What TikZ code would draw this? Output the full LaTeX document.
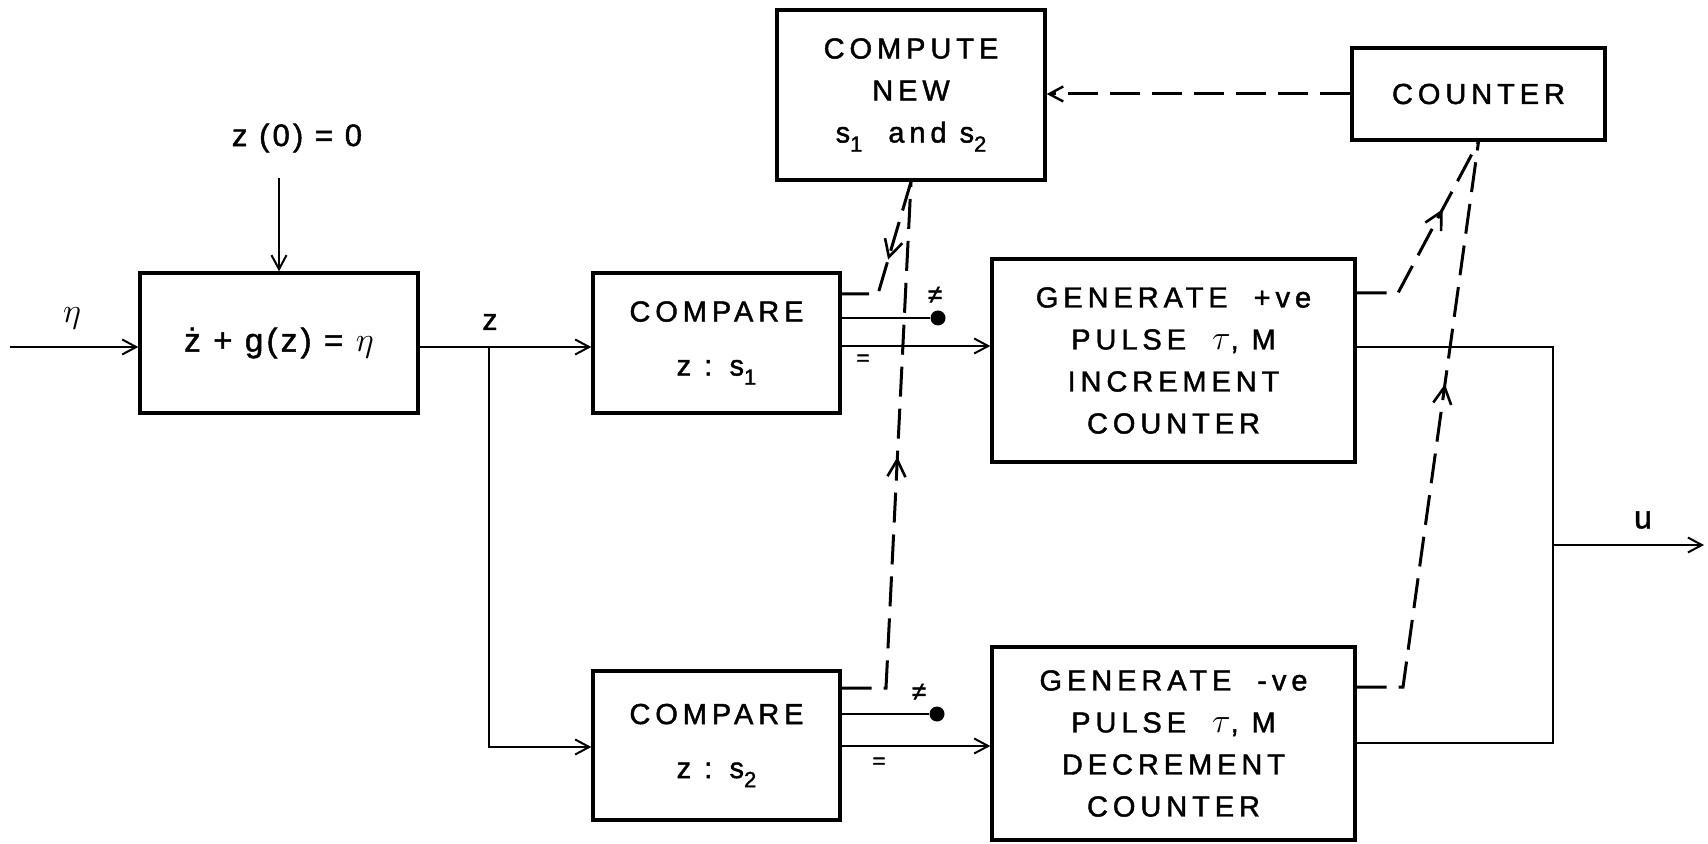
\documentclass[tikz,border=0pt]{standalone}
\usepackage{fontspec}
\setmainfont{Liberation Sans}[LetterSpace=10,FakeBold=1.5]
\newfontfamily\widefont{Liberation Sans}[LetterSpace=17,FakeBold=1.5]
\usetikzlibrary{arrows.meta,decorations.markings}
\newcommand\lo[1]{\raisebox{-0.6ex}{\fontsize{11}{11}\selectfont #1}}
\begin{document}
\begin{tikzpicture}[x=0.5pt,y=-0.5pt,
  box/.style={draw, line width=1.7pt, align=center, inner sep=0pt,
    font=\widefont\fontsize{14.5}{21}\selectfont},
  conn/.style={line width=1pt},
  arr/.style={conn, -{Straight Barb[length=7pt,width=7.5pt,line width=1pt]}},
  dsh/.style={line width=1.5pt, dash pattern=on 15pt off 6pt},
  dsharr/.style={dsh, -{Straight Barb[length=7pt,width=7.5pt,line width=1.2pt]}},
  midarrow/.style={postaction=decorate, decoration={markings,
    mark=at position #1 with {\arrow{Straight Barb[length=8.5pt,width=9pt,line width=1.3pt]}}}},
  lbl/.style={inner sep=0pt},
  dot/.style={circle, fill, inner sep=0pt, minimum size=7.5pt},
]
\fill[white] (0,0) rectangle (1708,844);

% boxes
\node[box, minimum width=139pt, minimum height=70pt, font=\fontsize{16.5}{20}\selectfont] (eq) at (279,343) {ż + g(z) = {\fontsize{19}{19}\selectfont$\eta$}};
\node[box, minimum width=123.5pt, minimum height=70pt] (c1) at (716.5,343) {COMPARE\\[6pt]z : s\lo{1}};
\node[box, minimum width=123.5pt, minimum height=74.5pt] (c2) at (716.5,745.5) {COMPARE\\[6pt]z : s\lo{2}};
\node[box, minimum width=134pt, minimum height=85pt] (cn) at (911,95) {COMPUTE\\NEW\\s\lo{1}\ \ and s\lo{2}};
\node[box, minimum width=126.5pt, minimum height=46pt] (ct) at (1478.5,94) {COUNTER};
\node[box, minimum width=181.5pt, minimum height=101.5pt] (g1) at (1173.5,360.5) {GENERATE \ +ve\\PULSE \ {\fontsize{18}{18}\selectfont$\tau$}, M\\INCREMENT\\COUNTER};
\node[box, minimum width=181.5pt, minimum height=96.5pt] (g2) at (1173.5,743.5) {GENERATE \ -ve\\PULSE \ {\fontsize{18}{18}\selectfont$\tau$}, M\\DECREMENT\\COUNTER};

% labels
\node[lbl, font=\fontsize{15.5}{15.5}\selectfont] (init) at (297,138) {z (0) = 0};
\node[lbl, font=\fontsize{18}{18}\selectfont] (eta) at (72,318) {$\eta$};
\node[lbl, font=\fontsize{15}{15}\selectfont] (zl) at (490,322) {z};
\node[lbl, font=\fontsize{16}{16}\selectfont] (ul) at (1643,520) {u};
\node[lbl, font=\fontsize{13}{13}\selectfont] (ne1) at (935,295) {≠};
\node[lbl, font=\fontsize{11}{11}\selectfont] (eq1) at (863,360) {=};
\node[lbl, font=\fontsize{13}{13}\selectfont] (ne2) at (919,692) {≠};
\node[lbl, font=\fontsize{11}{11}\selectfont] (eq2) at (879,763) {=};

% dots
\node[dot] (d1) at (938,318) {};
\node[dot] (d2) at (937,714) {};

% coordinates
\coordinate (in) at (10,347);
\coordinate (zs) at (279,178);
\coordinate (j1) at (489,347);
\coordinate (j2) at (489,747);
\coordinate (e1) at (0,346);
\coordinate (e2) at (0,746);
\coordinate (k1) at (878,294);
\coordinate (k2) at (886,688);
\coordinate (k3) at (1398,293);
\coordinate (k4) at (1403,687);
\coordinate (r1) at (1553,347);
\coordinate (r2) at (1553,743);
\coordinate (uj) at (1553,545);
\coordinate (uend) at (1704,545);

% solid connectors
\draw[arr] (in) -- (eq.west |- in);
\draw[arr] (zs) -- (eq.north);
\draw[arr] (eq.east |- j1) -- (c1.west |- j1);
\draw[arr] (j1) -- (j2) -- (c2.west |- j2);
\draw[conn] (c1.east |- d1) -- (d1);
\draw[conn] (c2.east |- d2) -- (d2);
\draw[arr] (c1.east |- e1) -- (g1.west |- e1);
\draw[arr] (c2.east |- e2) -- (g2.west |- e2);
\draw[conn] (g1.east |- r1) -- (r1) -- (r2) -- (g2.east |- r2);
\draw[arr] (uj) -- (uend);

% dashed connectors
\draw[dsh, midarrow=0.53] (cn.south) -- (k1) -- (c1.east |- k1);
\draw[dsh, midarrow=0.50] (c2.east |- k2) -- (k2) -- (cn.south);
\draw[dsharr] (ct.west) -- (cn.east |- ct.west);
\draw[dsh, midarrow=0.64] (g1.east |- k3) -- (k3) -- (ct.south);
\draw[dsh, midarrow=0.59] (g2.east |- k4) -- (k4) -- (ct.south);
\end{tikzpicture}
\end{document}
